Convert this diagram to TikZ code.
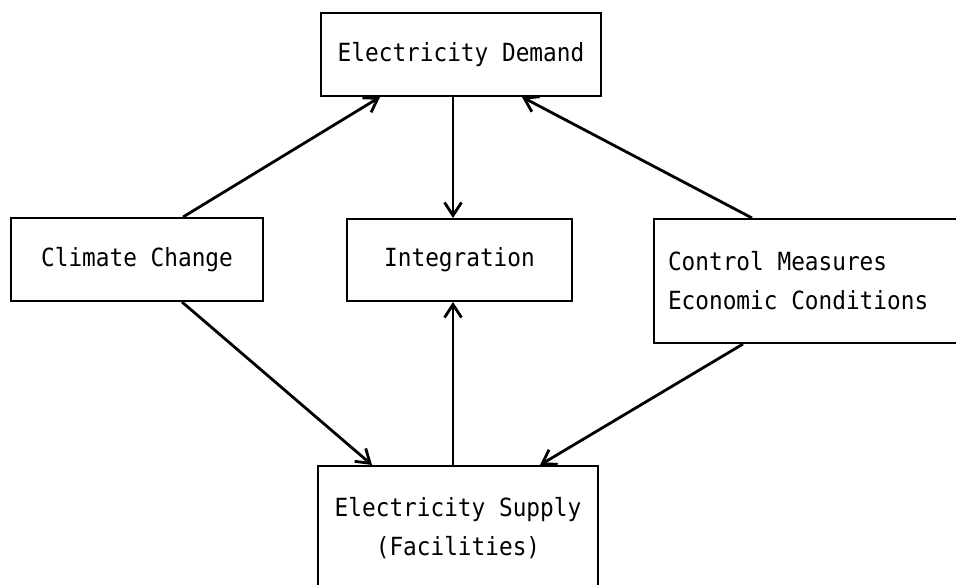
\documentclass[tikz,border=0pt]{standalone}
\usepackage{fontspec}
\setmonofont{DejaVu Sans Mono}[FakeStretch=0.91]
\usetikzlibrary{arrows.meta}

\begin{document}
\begin{tikzpicture}[x=1pt, y=-1pt,
        box/.style={draw, line width=2pt, rectangle, inner sep=0pt, font=\ttfamily\fontsize{25}{39}\selectfont},
        arr/.style={line width=2.8pt, -{Straight Barb[length=13pt, width=17pt, line width=2.8pt]}}]
            \useasboundingbox (0,0) rectangle (956,585);
            % the five boxes
            \node[box, minimum width=280pt, minimum height=83pt] (dem) at (461,54.5) {Electricity Demand};
            \node[box, minimum width=252pt, minimum height=83pt] (clim) at (137,259.5) {Climate Change};
            \node[box, minimum width=225pt, minimum height=82pt] (integ) at (459.5,260) {Integration};
            \node[box, minimum height=124pt, text width=276pt, inner xsep=14pt, align=flush left] (ctrl) at (806,281) {Control Measures\\Economic Conditions};
            \node[box, minimum width=280pt, minimum height=124pt, align=center] (sup) at (458,528) {Electricity Supply\\(Facilities)};
            % connectors
            \draw[arr] ([xshift=46pt]clim.north) -- ([xshift=-81pt]dem.south);
            \draw[arr] ([xshift=-54pt]ctrl.north) -- ([xshift=61pt]dem.south);
            \draw[arr, line width=2pt] ([xshift=-8pt]dem.south) -- ([xshift=-6.5pt]integ.north);
            \draw[arr, line width=2pt] ([xshift=-5pt]sup.north) -- ([xshift=-6.5pt]integ.south);
            \draw[arr] ([xshift=45pt]clim.south) -- ([xshift=-86pt]sup.north);
            \draw[arr] ([xshift=-63pt]ctrl.south) -- ([xshift=82pt]sup.north);
        \end{tikzpicture}
\end{document}
